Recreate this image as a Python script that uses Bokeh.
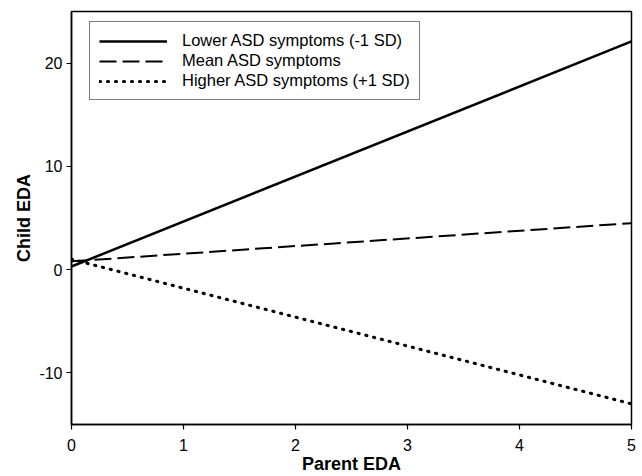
from bokeh.plotting import figure
from bokeh.models import Range1d, Legend, LegendItem, FixedTicker
from bokeh.embed import file_html
from bokeh.resources import INLINE

# Data
parent_eda = [0, 5]
lower_asd = [0.3, 22.1]
mean_asd = [0.8, 4.5]
higher_asd = [1.0, -13.0]
x_ticks = [0, 1, 2, 3, 4, 5]
y_ticks = [-10, 0, 10, 20]
y_tick_labels = {-10: "-10", 0: "0", 10: "10", 20: "20"}
labels = ["Lower ASD symptoms (-1 SD)", "Mean ASD symptoms", "Higher ASD symptoms (+1 SD)"]

FONT = "Liberation Sans"

p = figure(width=641, height=476, output_backend="svg", toolbar_location=None,
           x_range=Range1d(0, 5), y_range=Range1d(-15, 25),
           min_border_left=71, min_border_top=11, min_border_right=10, min_border_bottom=50)
p.grid.visible = False
p.outline_line_color = "black"
p.outline_line_width = 1.5
p.background_fill_color = "white"
p.border_fill_color = "white"

r1 = p.line(parent_eda, lower_asd, line_color="black", line_width=2.5)
r2 = p.line(parent_eda, mean_asd, line_color="black", line_width=2, line_dash="17 6")
r3 = p.line(parent_eda, higher_asd, line_color="black", line_width=3.2,
            line_dash="1 7", line_cap="round")

for ax in (p.xaxis[0], p.yaxis[0]):
    ax.axis_line_color = "black"
    ax.axis_line_width = 1.5
    ax.major_tick_line_color = "black"
    ax.major_tick_line_width = 1.2
    ax.major_tick_out = 5
    ax.major_tick_in = 0
    ax.minor_tick_line_color = None
    ax.major_label_text_font = FONT
    ax.major_label_text_font_size = "16px"
    ax.major_label_text_color = "black"
    ax.axis_label_text_font = FONT
    ax.axis_label_text_font_size = "18px"
    ax.axis_label_text_font_style = "bold"
    ax.axis_label_text_color = "black"

p.xaxis.ticker = FixedTicker(ticks=x_ticks)
p.yaxis.ticker = FixedTicker(ticks=y_ticks)
p.yaxis.major_label_overrides = y_tick_labels
p.xaxis.axis_label = "Parent EDA"
p.yaxis.axis_label = "Child EDA"
p.xaxis.major_label_standoff = 9
p.xaxis.axis_label_standoff = 0
p.yaxis.major_label_standoff = 4
p.yaxis.axis_label_standoff = 2

legend = Legend(items=[LegendItem(label=labels[0], renderers=[r1]),
                       LegendItem(label=labels[1], renderers=[r2]),
                       LegendItem(label=labels[2], renderers=[r3])],
                location=(18, 411 - 10 - 77))
legend.border_line_color = "black"
legend.border_line_width = 1.5
legend.background_fill_alpha = 1.0
legend.label_text_font = FONT
legend.label_text_font_size = "16.5px"
legend.label_text_color = "black"
legend.glyph_width = 68
legend.glyph_height = 18
legend.label_height = 18
legend.label_standoff = 15
legend.spacing = 1
legend.padding = 9
legend.margin = 0
p.add_layout(legend, "center")

open("out.html", "w").write(file_html(p, INLINE))
